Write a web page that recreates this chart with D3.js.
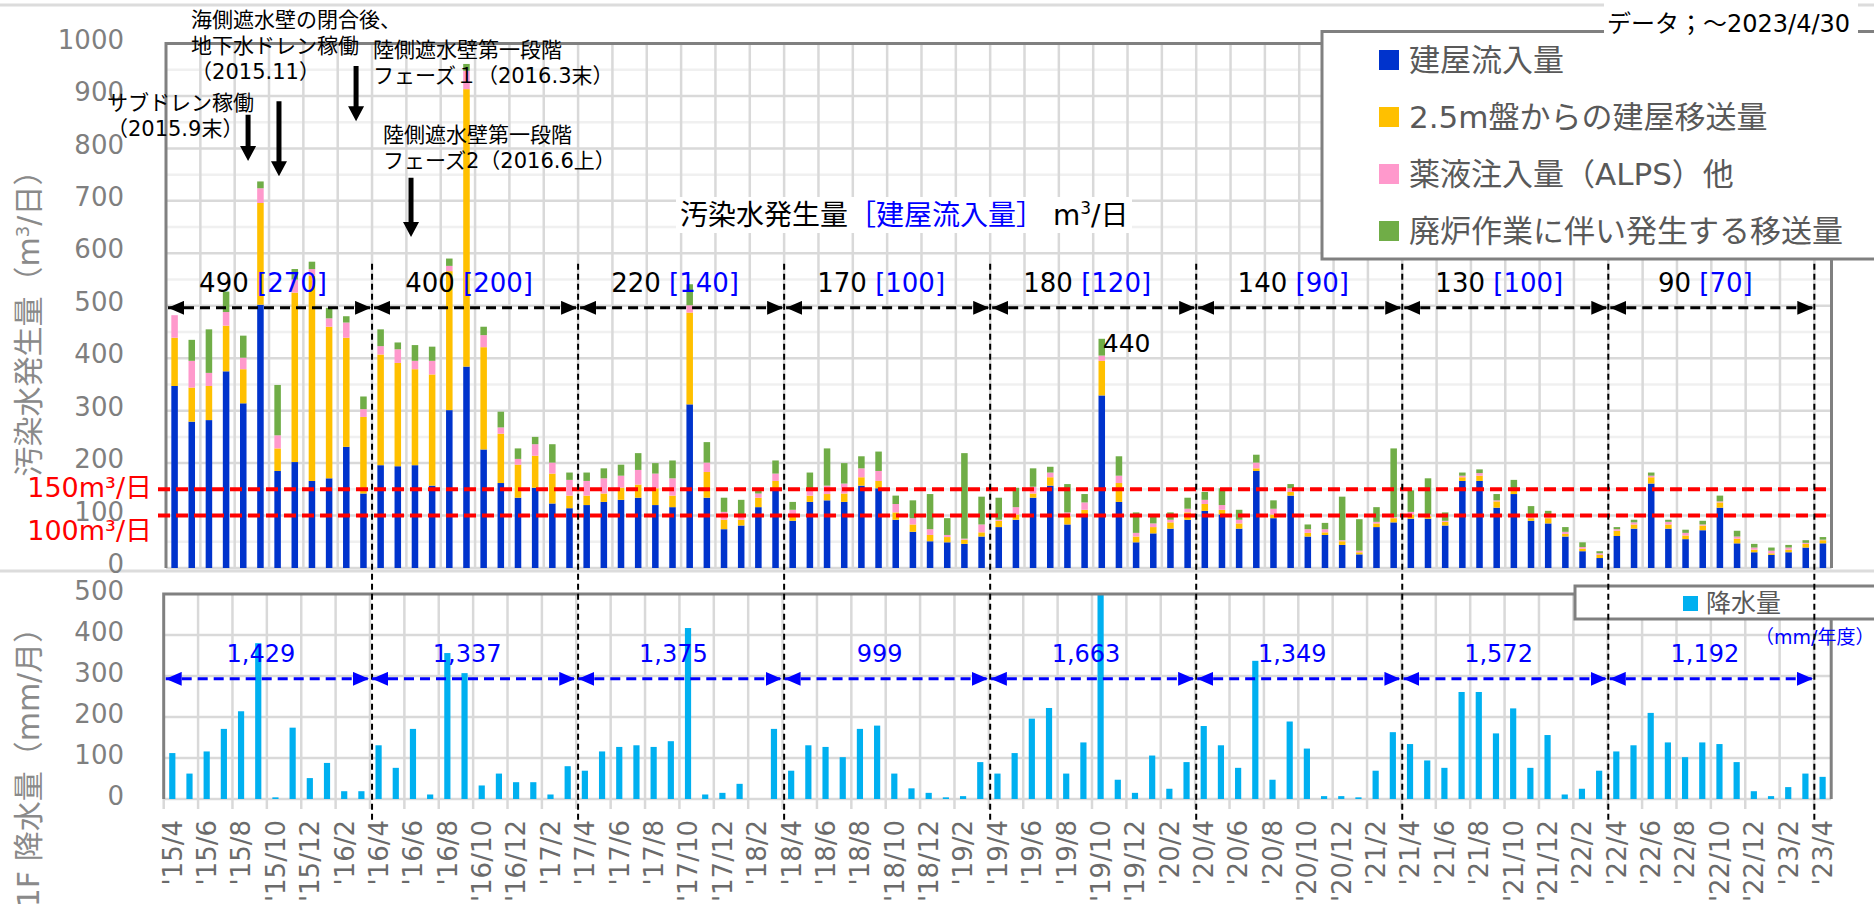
<!DOCTYPE html>
<html>
<head>
<meta charset="utf-8">
<script src="https://cdn.jsdelivr.net/npm/d3@7"></script>
<style>
body { margin: 0; background: #fff; }
svg { display: block; font-family: "DejaVu Sans", "Noto Sans CJK JP", sans-serif; }
</style>
</head>
<body>
<div id="chart"></div>
<script>
// monthly values, 2015/4 .. 2023/4 (m3/day)
const inflow = [347,279,282,375,314,502,185,202,166,171,231,142,
  196,194,196,157,301,384,226,162,134,153,123,114,
  120,126,130,134,120,116,312,134,74,81,116,148,
  90,126,129,126,157,152,92,69,51,49,46,60,
  78,92,134,157,83,102,329,126,49,66,75,92,
  109,102,75,185,95,138,60,63,44,26,78,87,
  94,94,81,166,166,115,141,90,85,60,32,19,
  61,75,161,75,55,72,115,47,30,25,30,39,
  47];
const transfer = [92,65,65,87,65,194,43,323,391,289,208,146,
  211,197,183,212,265,529,195,94,63,61,57,24,
  18,16,23,25,32,22,175,49,18,11,18,18,
  9,12,12,16,16,14,14,14,12,10,8,8,
  12,10,8,16,16,9,66,36,11,12,12,14,
  13,9,10,5,7,7,7,5,7,4,7,8,
  8,5,7,7,10,12,7,5,10,5,5,6,
  10,8,12,8,7,9,10,9,5,3,5,7,
  6];
const chemical = [43,51,25,26,22,28,25,25,13,16,29,15,
  16,26,16,26,10,35,23,12,11,22,21,30,
  28,29,23,28,28,33,14,18,15,10,8,14,
  12,14,16,19,17,19,16,12,11,4,2,15,
  2,14,13,9,7,14,10,14,7,7,5,7,
  8,9,7,11,11,7,7,6,2,3,3,2,
  5,3,2,3,5,2,4,7,2,4,3,3,
  3,4,3,5,5,2,2,4,4,5,4,2,
  1];
const decom = [0,40,83,39,42,13,96,20,14,20,12,24,
  32,13,30,27,14,13,16,30,20,14,35,14,
  16,19,21,32,20,34,40,39,27,28,8,25,
  15,30,71,39,23,37,16,34,67,32,163,53,
  42,37,35,11,54,16,32,37,39,15,14,21,
  15,32,19,15,16,8,9,12,83,60,28,131,
  41,69,16,6,7,12,16,16,12,9,9,4,
  4,5,6,4,6,7,11,11,7,6,5,5,
  5];
// monthly rainfall (mm/month)
const rain = [112,62,116,171,214,380,4,174,51,88,19,19,
  131,76,171,11,356,307,33,62,41,41,11,80,
  69,116,127,131,127,141,417,11,15,37,0,171,
  69,131,127,102,171,179,62,26,15,4,7,90,
  62,112,196,222,62,138,500,47,15,106,25,90,
  178,131,76,337,47,189,123,7,7,4,69,163,
  134,94,76,261,261,160,221,76,156,11,25,69,
  116,131,210,138,102,138,134,90,19,7,29,62,
  54];

const periodTotal = [490, 400, 220, 170, 180, 140, 130, 90];
const periodInflow = [270, 200, 140, 100, 120, 90, 100, 70];
const yearRain = ["1,429", "1,337", "1,375", "999", "1,663", "1,349", "1,572", "1,192"];

const upperTicks = [0, 100, 200, 300, 400, 500, 600, 700, 800, 900, 1000];
const lowerTicks = [0, 100, 200, 300, 400, 500];
const limits = [{v: 150, label: "150m³/日"}, {v: 100, label: "100m³/日"}];

const seriesKeys = ["inflow", "transfer", "chemical", "decom"];
const seriesNames = ["建屋流入量", "2.5m盤からの建屋移送量", "薬液注入量（ALPS）他", "廃炉作業に伴い発生する移送量"];
const seriesColors = ["#0033CC", "#FFC000", "#FF99CC", "#70AD47"];

// notes: m = month position (index), v = value on upper axis
const notes = [
  {m: 1.46, v: 1045, lines: ["海側遮水壁の閉合後、", "地下水ドレン稼働", "（2015.11）"]},
  {m: -3.44, v: 888, lines: ["サブドレン稼働", "（2015.9末）"]},
  {m: 12.06, v: 988, lines: ["陸側遮水壁第一段階", "フェーズ１（2016.3末）"]},
  {m: 12.64, v: 826, lines: ["陸側遮水壁第一段階", "フェーズ2（2016.6上）"]}
];
const noteArrows = [
  {m: 4.78, top: 864, tip: 776},
  {m: 6.58, top: 890, tip: 747},
  {m: 11.07, top: 957, tip: 852},
  {m: 14.27, top: 744, tip: 631}
];

const months = [];
for (let y = 2015, m = 4; months.length < inflow.length; m++) {
  if (m > 12) { m = 1; y++; }
  months.push(String(y).slice(2) + "/" + m);
}

const table = months.map((mo, i) => ({
  month: mo, inflow: inflow[i], transfer: transfer[i], chemical: chemical[i], decom: decom[i], rain: rain[i]
}));

const W = 1874, H = 911;
const svg = d3.select("#chart").append("svg").attr("width", W).attr("height", H);

const xUp = d3.scaleBand().domain(months).range([166, 1831.5]).paddingInner(0.62).paddingOuter(0.31);
const xLow = d3.scaleBand().domain(months).range([163.7, 1831.2]).paddingInner(0.64).paddingOuter(0.32);
const yUp = d3.scaleLinear().domain([0, 1000]).range([568, 43.5]);
const yLow = d3.scaleLinear().domain([0, 500]).range([799, 594]);
const edge = (sc, i) => sc.range()[0] + i * sc.step();
const mid = (sc, m) => sc.range()[0] + (m + 0.5) * sc.step();

const defs = svg.append("defs");
[["headBlack", "#000"], ["headBlue", "#0000FF"]].forEach(([id, c]) => {
  const mk = defs.append("marker").attr("id", id)
    .attr("viewBox", "0 0 16 14").attr("refX", 16).attr("refY", 7)
    .attr("markerWidth", 16).attr("markerHeight", 14)
    .attr("markerUnits", "userSpaceOnUse").attr("orient", "auto-start-reverse");
  mk.append("path").attr("d", "M0,0L16,7L0,14Z").attr("fill", c);
});

// page frame lines
svg.append("line").attr("x1", 0).attr("x2", W).attr("y1", 5).attr("y2", 5).attr("stroke", "#dcdcdc").attr("stroke-width", 3);
svg.append("line").attr("x1", 0).attr("x2", W).attr("y1", 571).attr("y2", 571).attr("stroke", "#dcdcdc").attr("stroke-width", 3);

// ---------- upper chart ----------
const up = svg.append("g");
const upX0 = xUp.range()[0], upX1 = xUp.range()[1];

d3.range(50, 1000, 100).forEach(v => {
  up.append("line").attr("x1", upX0).attr("x2", upX1).attr("y1", yUp(v)).attr("y2", yUp(v))
    .attr("stroke", "#f0f0f0").attr("stroke-width", 2.5);
});
upperTicks.slice(0, -1).forEach(v => {
  up.append("line").attr("x1", upX0).attr("x2", upX1).attr("y1", yUp(v)).attr("y2", yUp(v))
    .attr("stroke", "#d9d9d9").attr("stroke-width", 2.5);
});
d3.range(2, months.length + 1, 2).forEach(i => {
  up.append("line").attr("x1", edge(xUp, i)).attr("x2", edge(xUp, i))
    .attr("y1", yUp(1000)).attr("y2", yUp(0)).attr("stroke", "#d9d9d9").attr("stroke-width", 2.5);
});

const stacked = d3.stack().keys(seriesKeys)(table);
up.selectAll("g.layer").data(stacked).join("g")
  .attr("class", "layer")
  .attr("fill", (d, i) => seriesColors[i])
  .selectAll("rect").data(d => d).join("rect")
  .attr("x", d => xUp(d.data.month))
  .attr("width", xUp.bandwidth())
  .attr("y", d => yUp(d[1]))
  .attr("height", d => yUp(d[0]) - yUp(d[1]));

// plot frame
up.append("path").attr("d", `M${upX1},${yUp(0)}V259M1322,${yUp(1000)}H${upX0}V${yUp(0)}`)
  .attr("fill", "none").attr("stroke", "#808080").attr("stroke-width", 3);

// limit lines
limits.forEach((l, k) => {
  up.append("line").attr("x1", 158).attr("x2", upX1).attr("y1", yUp(l.v)).attr("y2", yUp(l.v))
    .attr("stroke", "#FF0000").attr("stroke-width", 4).attr("stroke-dasharray", "12,6");
  up.append("text").attr("x", 152).attr("y", k === 0 ? yUp(l.v) - 2 : yUp(l.v) + 15)
    .attr("dy", "0.35em").attr("text-anchor", "end").attr("font-size", 27).attr("fill", "#FF0000")
    .text(l.label);
});

// y axis labels
up.selectAll("text.yt").data(upperTicks).join("text").attr("class", "yt")
  .attr("x", 124).attr("y", d => yUp(d) - 4).attr("dy", "0.35em").attr("text-anchor", "end")
  .attr("font-size", 26).attr("fill", "#7f7f7f").text(d => d);
svg.append("text").attr("transform", "translate(28,316) rotate(-90)").attr("dy", "0.35em")
  .attr("text-anchor", "middle").attr("font-size", 30).attr("fill", "#8a8a8a")
  .html('汚染水発生量（m<tspan dy="-10" font-size="18">3</tspan><tspan dy="10">/日）</tspan>');

// title
up.append("rect").attr("x", 676).attr("y", 197).attr("width", 456).attr("height", 36).attr("fill", "#fff");
up.append("text").attr("x", 680).attr("y", 215).attr("dy", "0.35em").attr("font-size", 28).attr("fill", "#000")
  .html('汚染水発生量<tspan fill="#0000FF">［建屋流入量］</tspan> m<tspan dy="-11" font-size="17">3</tspan><tspan dy="11">/日</tspan>');

// ---------- lower chart ----------
const low = svg.append("g");
const lowX0 = xLow.range()[0], lowX1 = xLow.range()[1];
lowerTicks.slice(0, -1).forEach(v => {
  low.append("line").attr("x1", lowX0).attr("x2", lowX1).attr("y1", yLow(v)).attr("y2", yLow(v))
    .attr("stroke", "#d9d9d9").attr("stroke-width", 2.5);
});
d3.range(2, months.length + 1, 2).forEach(i => {
  low.append("line").attr("x1", edge(xLow, i)).attr("x2", edge(xLow, i))
    .attr("y1", yLow(500)).attr("y2", yLow(0) + 10).attr("stroke", "#d9d9d9").attr("stroke-width", 2.5);
});
low.append("line").attr("x1", lowX0).attr("x2", lowX0).attr("y1", yLow(0)).attr("y2", yLow(0) + 10)
  .attr("stroke", "#d9d9d9").attr("stroke-width", 2.5);

low.selectAll("rect.rain").data(table).join("rect").attr("class", "rain")
  .attr("x", d => xLow(d.month)).attr("width", xLow.bandwidth())
  .attr("y", d => yLow(d.rain)).attr("height", d => yLow(0) - yLow(d.rain))
  .attr("fill", "#00B0F0");

low.append("path").attr("d", `M${lowX1},${yLow(0)}V619M1575,${yLow(500)}H${lowX0}V${yLow(0)}`)
  .attr("fill", "none").attr("stroke", "#808080").attr("stroke-width", 3);

low.selectAll("text.yt").data(lowerTicks).join("text").attr("class", "yt")
  .attr("x", 124).attr("y", d => yLow(d) - 3).attr("dy", "0.35em").attr("text-anchor", "end")
  .attr("font-size", 26).attr("fill", "#7f7f7f").text(d => d);
svg.append("text").attr("transform", "translate(28,760) rotate(-90)").attr("dy", "0.35em")
  .attr("text-anchor", "middle").attr("font-size", 30).attr("fill", "#8a8a8a")
  .text("1F 降水量（mm/月）");

// x labels
low.selectAll("text.xt").data(months.filter((d, i) => i % 2 === 0)).join("text").attr("class", "xt")
  .attr("transform", d => `translate(${xLow(d) + xLow.bandwidth() / 2},820) rotate(-90)`)
  .attr("dy", "0.36em").attr("text-anchor", "end").attr("font-size", 26).attr("fill", "#6b6b6b")
  .text(d => "'" + d);

// lower legend
low.append("rect").attr("x", 1575).attr("y", 586).attr("width", 320).attr("height", 33)
  .attr("fill", "#fff").attr("stroke", "#808080").attr("stroke-width", 3);
low.append("rect").attr("x", 1683).attr("y", 596).attr("width", 15).attr("height", 15).attr("fill", "#00B0F0");
low.append("text").attr("x", 1706).attr("y", 603).attr("dy", "0.35em").attr("font-size", 25)
  .attr("fill", "#595959").text("降水量");
low.append("text").attr("x", 1755).attr("y", 637).attr("dy", "0.35em").attr("font-size", 19)
  .attr("fill", "#0000FF").text("（mm/年度）");

// ---------- period markers ----------
const nPeriods = periodTotal.length;
d3.range(1, nPeriods + 1).forEach(p => {
  const x = edge(xUp, p * 12);
  svg.append("line").attr("x1", x).attr("x2", x).attr("y1", yUp(580)).attr("y2", yLow(0) + 24)
    .attr("stroke", "#000").attr("stroke-width", 2).attr("stroke-dasharray", "6,4");
});
d3.range(nPeriods).forEach(p => {
  const a = p === 0 ? upX0 : edge(xUp, p * 12), b = edge(xUp, (p + 1) * 12);
  svg.append("line").attr("x1", a + 2).attr("x2", b - 1).attr("y1", yUp(496)).attr("y2", yUp(496))
    .attr("stroke", "#000").attr("stroke-width", 3).attr("stroke-dasharray", "10,6")
    .attr("marker-start", "url(#headBlack)").attr("marker-end", "url(#headBlack)");
  svg.append("text").attr("x", (a + b) / 2 - 6).attr("y", yUp(543)).attr("dy", "0.35em")
    .attr("text-anchor", "middle").attr("font-size", 26).attr("fill", "#000")
    .html(`${periodTotal[p]} <tspan fill="#0000FF">[${periodInflow[p]}]</tspan>`);

  const la = p === 0 ? lowX0 : edge(xLow, p * 12), lb = edge(xLow, (p + 1) * 12);
  svg.append("line").attr("x1", la + 2).attr("x2", lb - 1).attr("y1", yLow(293)).attr("y2", yLow(293))
    .attr("stroke", "#0000FF").attr("stroke-width", 3).attr("stroke-dasharray", "10,6")
    .attr("marker-start", "url(#headBlue)").attr("marker-end", "url(#headBlue)");
  svg.append("text").attr("x", (la + lb) / 2 - 6).attr("y", yLow(354)).attr("dy", "0.35em")
    .attr("text-anchor", "middle").attr("font-size", 24).attr("fill", "#0000FF")
    .text(yearRain[p]);
});

// peak label
const peak = d3.maxIndex(table.slice(36), d => d.inflow) + 36;
const peakTotal = d3.sum(seriesKeys, k => table[peak][k]);
svg.append("text").attr("x", xUp(months[peak]) + xUp.bandwidth() / 2 + 1).attr("y", yUp(peakTotal) + 4)
  .attr("dy", "0.35em").attr("font-size", 25).attr("fill", "#000")
  .text(Math.round(peakTotal / 10) * 10);

// ---------- notes ----------
notes.forEach(n => {
  const t = svg.append("text").attr("x", mid(xUp, n.m - 0.5)).attr("y", yUp(n.v))
    .attr("font-size", 21).attr("fill", "#000");
  n.lines.forEach((ln, k) => {
    t.append("tspan").attr("x", mid(xUp, n.m - 0.5)).attr("y", yUp(n.v) + k * 26).attr("dy", "0.35em").text(ln);
  });
});
noteArrows.forEach(a => {
  const x = mid(xUp, a.m - 0.5), y0 = yUp(a.top), y1 = yUp(a.tip);
  svg.append("path")
    .attr("d", `M${x - 2.5},${y0}H${x + 2.5}V${y1 - 15}H${x + 8}L${x},${y1}L${x - 8},${y1 - 15}H${x - 2.5}Z`)
    .attr("fill", "#000");
});

// ---------- upper legend ----------
svg.append("rect").attr("x", 1322).attr("y", 31.5).attr("width", 580).attr("height", 227.5)
  .attr("fill", "#fff").attr("stroke", "#808080").attr("stroke-width", 3);
seriesNames.forEach((name, i) => {
  const cy = 60 + i * 57;
  svg.append("rect").attr("x", 1379).attr("y", cy - 10).attr("width", 20).attr("height", 20).attr("fill", seriesColors[i]);
  svg.append("text").attr("x", 1409).attr("y", cy).attr("dy", "0.35em").attr("font-size", 31)
    .attr("fill", "#595959").text(name);
});
svg.append("rect").attr("x", 1604).attr("y", 0).attr("width", 254).attr("height", 40).attr("fill", "#fff");
svg.append("text").attr("x", 1607).attr("y", 24).attr("dy", "0.35em").attr("font-size", 24).attr("fill", "#000")
  .text("データ；～2023/4/30");
</script>
</body>
</html>
